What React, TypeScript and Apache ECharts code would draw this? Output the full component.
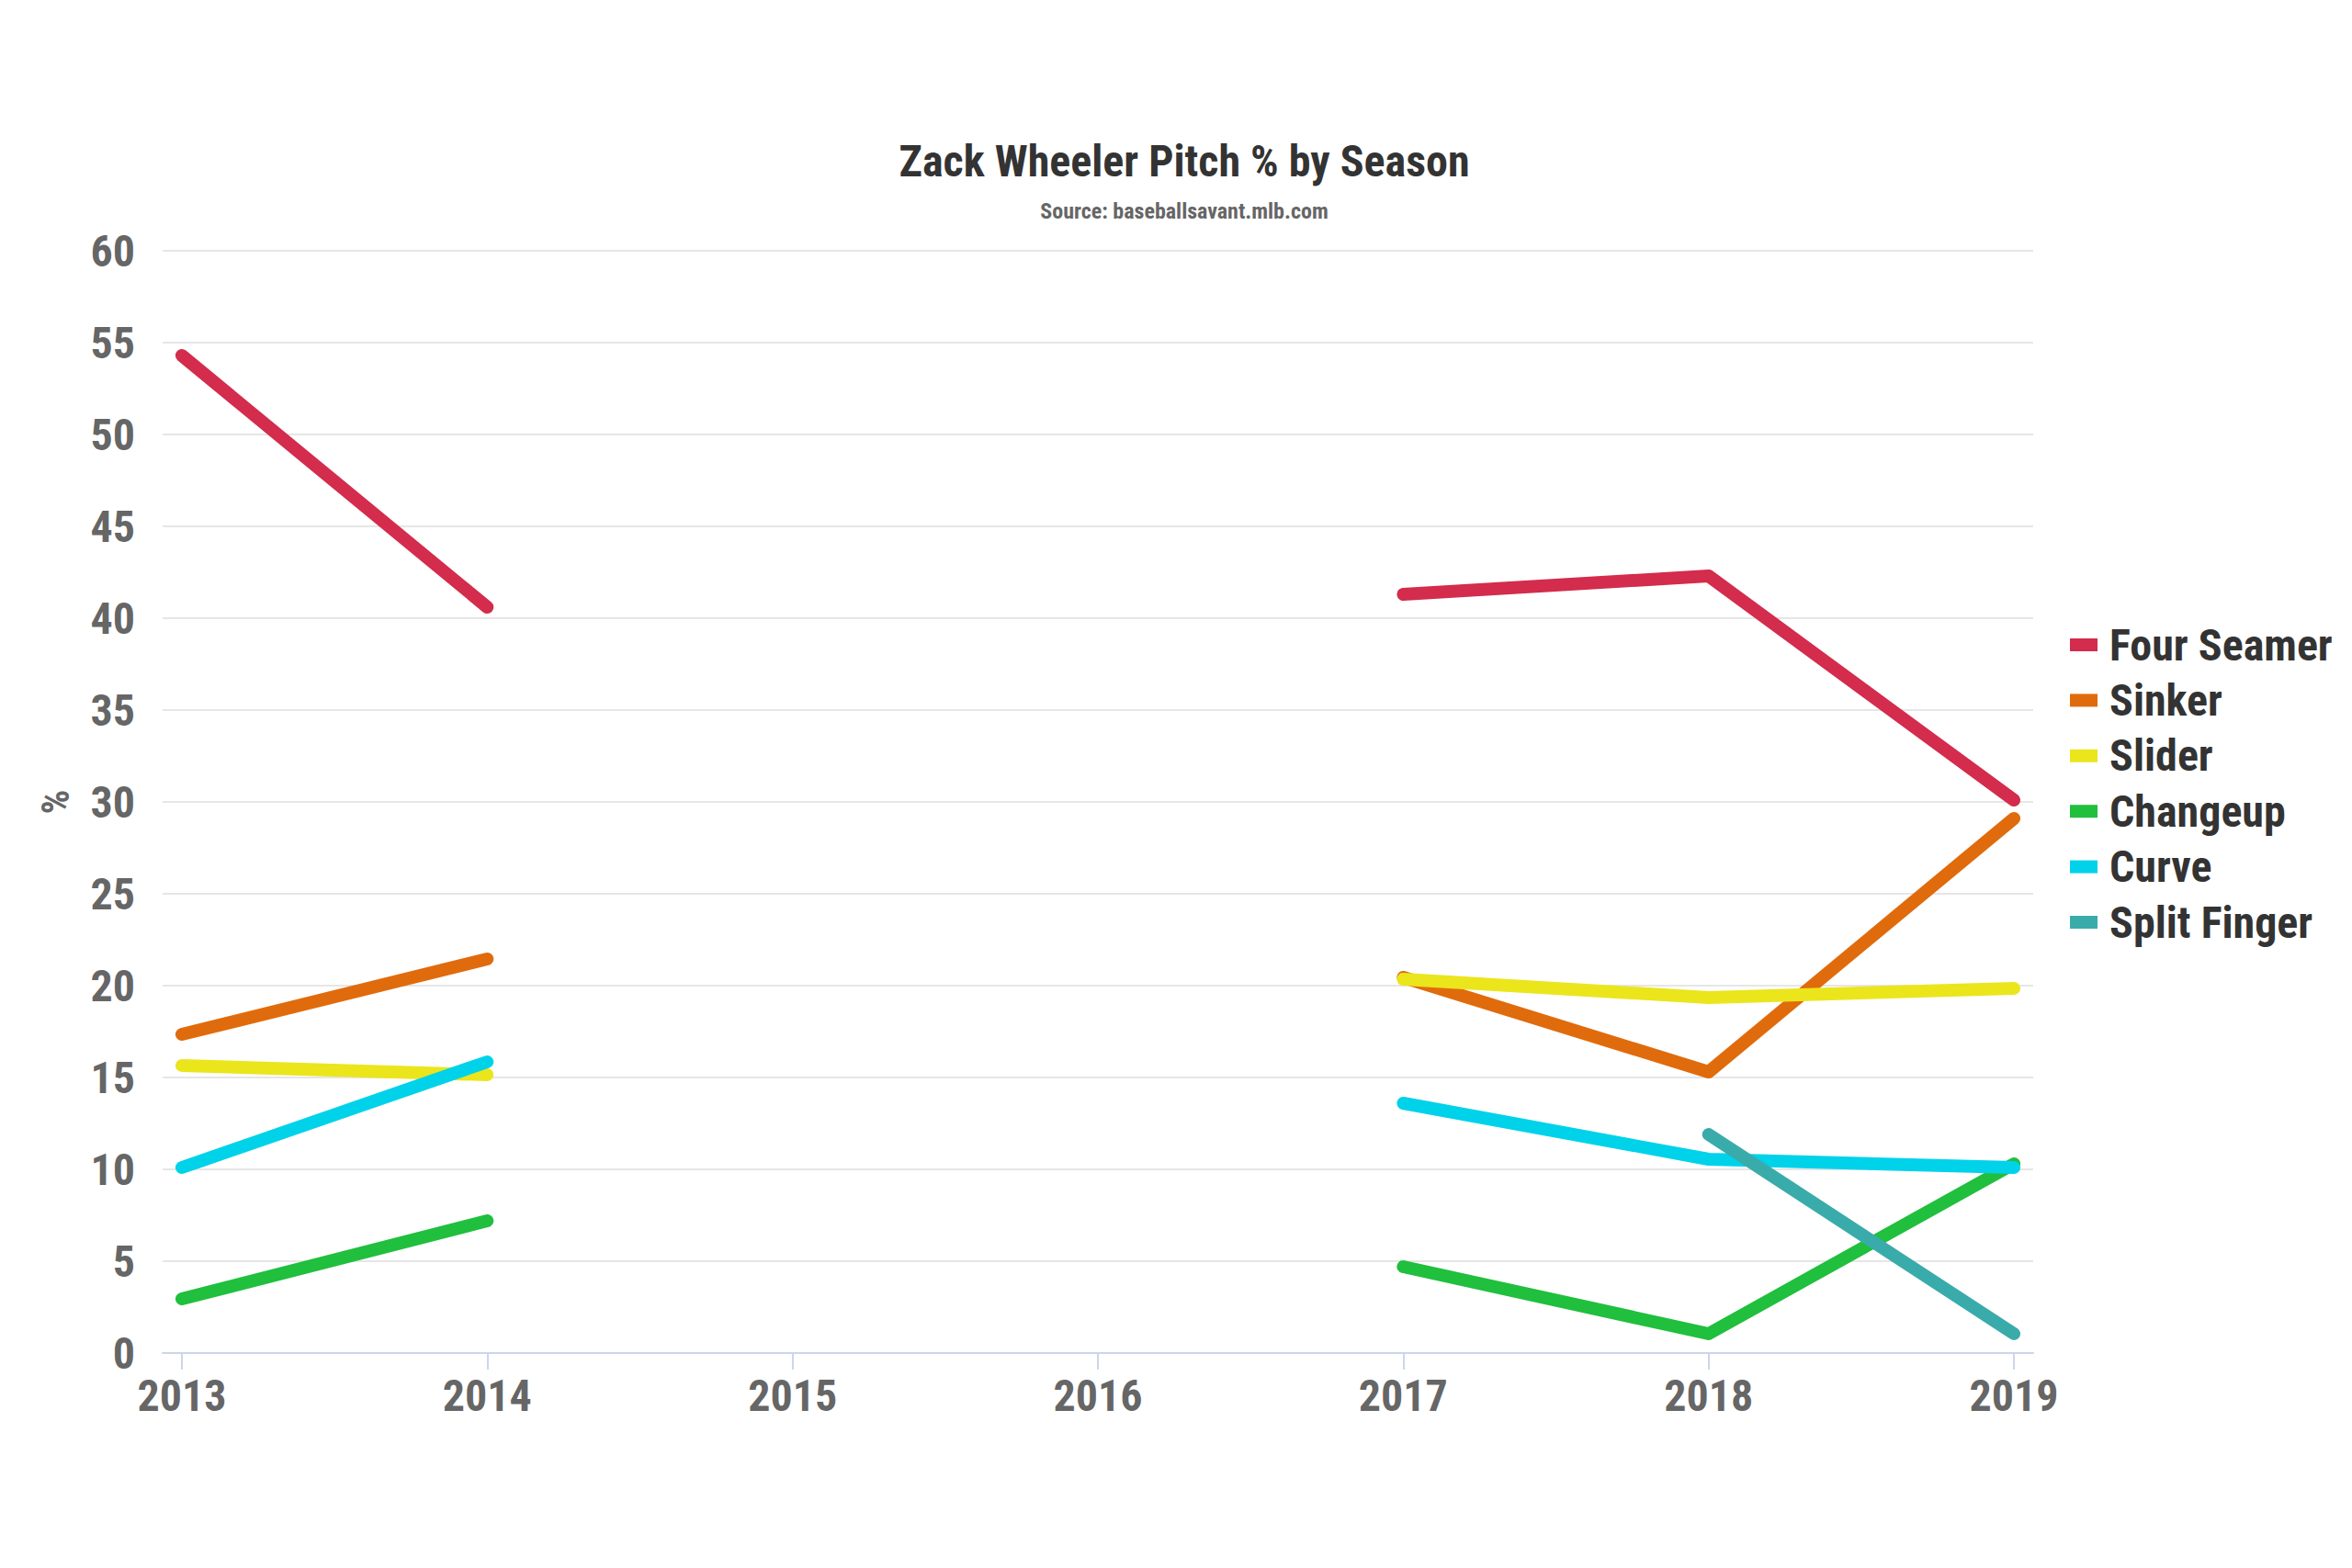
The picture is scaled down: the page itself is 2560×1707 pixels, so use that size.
import React, { useEffect, useRef } from "react";
import * as echarts from "echarts";

const years = [2013, 2014, 2015, 2016, 2017, 2018, 2019];
const yTicks = [0, 5, 10, 15, 20, 25, 30, 35, 40, 45, 50, 55, 60];

const seriesNames = ["Four Seamer", "Sinker", "Slider", "Changeup", "Curve", "Split Finger"];
const fourSeamer = [54.3, 40.6, null, null, 41.3, 42.3, 30.1];
const sinker = [17.35, 21.45, null, null, 20.45, 15.3, 29.1];
const slider = [15.65, 15.15, null, null, 20.35, 19.35, 19.85];
const changeup = [2.95, 7.2, null, null, 4.7, 1.05, 10.3];
const curve = [10.1, 15.85, null, null, 13.6, 10.55, 10.1];
const splitFinger = [null, null, null, null, null, 11.9, 1.05];
const colors = ["#d32c4c", "#e06b0c", "#ebe51c", "#20bf3d", "#00d2ea", "#3aabab"];

const FONT = "'Roboto Condensed', 'Liberation Sans Narrow', 'DejaVu Sans Condensed', Roboto, sans-serif";

export default function App() {
  const ref = useRef<HTMLDivElement>(null);
  useEffect(() => {
    if (!ref.current) return;
    const chart = echarts.init(ref.current, null, { renderer: "svg" });
    const allValues = [fourSeamer, sinker, slider, changeup, curve, splitFinger];
    const series = allValues.map((vals, i) => ({
      name: seriesNames[i],
      type: "line",
      data: years.map((y, j) => [y, vals[j]]),
      showSymbol: false,
      connectNulls: false,
      color: colors[i],
      lineStyle: { width: 14, color: colors[i], cap: "round", join: "round" },
      z: 2 + i,
    }));
    chart.setOption({
      animation: false,
      backgroundColor: "#ffffff",
      title: {
        text: "Zack Wheeler Pitch % by Season",
        subtext: "Source: baseballsavant.mlb.com",
        left: 1284,
        textAlign: "center",
        top: 146,
        itemGap: 19,
        textStyle: { fontFamily: FONT, fontWeight: "bold", fontSize: 48, color: "#333333" },
        subtextStyle: { fontFamily: FONT, fontWeight: "bold", fontSize: 24, color: "#666666" },
      },
      legend: {
        orient: "vertical",
        left: 2253,
        top: 678,
        padding: 0,
        itemWidth: 30,
        itemHeight: 14,
        itemGap: 12.4,
        icon: "rect",
        data: seriesNames,
        textStyle: {
          fontFamily: FONT,
          fontWeight: "bold",
          fontSize: 48,
          lineHeight: 48,
          color: "#333333",
          padding: [0, 0, 0, 8],
        },
      },
      grid: { left: 177, right: 2560 - 2213, top: 273, bottom: 1707 - 1473, containLabel: false },
      xAxis: {
        type: "value",
        min: 2012.937,
        max: 2019.063,
        axisLine: { show: true, lineStyle: { color: "#ccd6eb", width: 2 } },
        axisTick: { show: true, customValues: years, length: 18, lineStyle: { color: "#ccd6eb", width: 2 } },
        axisLabel: {
          customValues: years,
          formatter: (v: number) => String(v),
          margin: 22,
          fontFamily: FONT,
          fontWeight: "bold",
          fontSize: 48,
          color: "#666666",
        },
        splitLine: { show: false },
      },
      yAxis: {
        type: "value",
        min: yTicks[0],
        max: yTicks[yTicks.length - 1],
        interval: 5,
        name: "%",
        nameLocation: "middle",
        nameGap: 96,
        nameRotate: 90,
        nameTextStyle: { fontFamily: FONT, fontWeight: "bold", fontSize: 42, color: "#666666" },
        axisLine: { show: false },
        axisTick: { show: false },
        axisLabel: {
          margin: 30,
          fontFamily: FONT,
          fontWeight: "bold",
          fontSize: 48,
          color: "#666666",
        },
        splitLine: { show: true, lineStyle: { color: "#e6e6e6", width: 2 } },
      },
      series,
    });
    return () => chart.dispose();
  }, []);
  return (
    <div
      ref={ref}
      style={{ position: "absolute", left: 0, top: 0, width: 2560, height: 1707, background: "#fff" }}
    />
  );
}
